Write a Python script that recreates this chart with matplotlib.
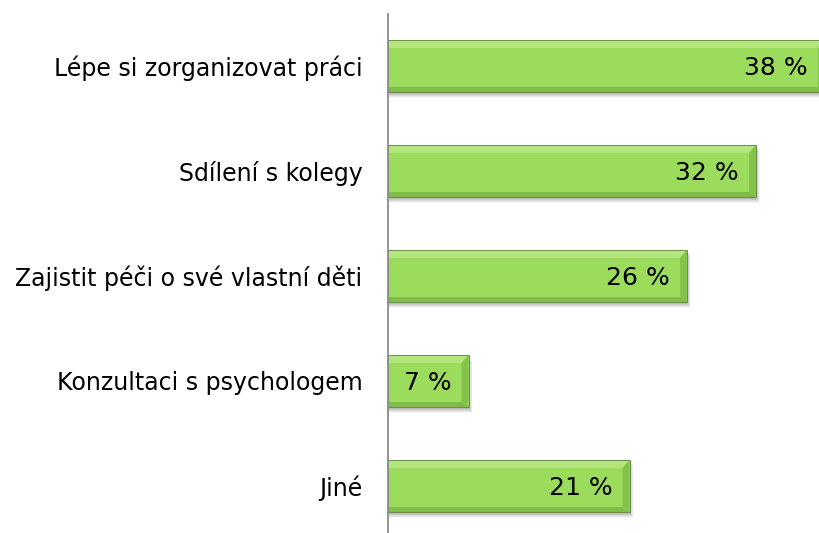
import matplotlib.pyplot as plt
from matplotlib.patches import Polygon, Rectangle

# Data
categories = ['Lépe si zorganizovat práci', 'Sdílení s kolegy',
              'Zajistit péči o své vlastní děti', 'Konzultaci s psychologem', 'Jiné']
values = [38, 32, 26, 7, 21]
value_labels = ['38 %', '32 %', '26 %', '7 %', '21 %']

W, H, DPI = 819, 533, 100
fig = plt.figure(figsize=(W / DPI, H / DPI), dpi=DPI)

# axes placed in pixels: left edge at the axis line, bars may run off the right edge
left_px, right_px, top_px, bottom_px = 388, 825, 14, 533
ax = fig.add_axes([left_px / W, 0, (right_px - left_px) / W, (bottom_px - top_px) / H])

xmax = 38.0
pitch_px = 105.0
first_center_px = 66.0
y_top = -(first_center_px - top_px) / pitch_px
y_bot = y_top + (bottom_px - top_px) / pitch_px
ax.set_xlim(0, xmax)
ax.set_ylim(y_bot, y_top)

px_x = xmax / (right_px - left_px)   # data units per pixel
px_y = 1.0 / pitch_px

bar_h = 52 / pitch_px
main = '#9cdc5c'
light = '#b3e67c'
dark_side = '#84c34b'
dark_bot = '#80bd48'
edge = '#6a8f48'

ypos = list(range(len(categories)))

for y, v in zip(ypos, values):
    t = y - bar_h / 2
    b = y + bar_h / 2
    bt = 8 * px_y   # top bevel
    bb = 5 * px_y   # bottom bevel
    br = 7 * px_x   # right bevel
    # soft shadow
    for k, a in [(6, 0.04), (5, 0.05), (4, 0.06), (3, 0.07), (2, 0.08)]:
        ax.add_patch(Rectangle((0, t + k * px_y), v + k * 0.6 * px_x, bar_h,
                               facecolor='#000000', alpha=a, linewidth=0, zorder=1))
    ax.add_patch(Rectangle((0, t), v, bar_h, facecolor=main, edgecolor='none', zorder=2))
    # bevels
    ax.add_patch(Polygon([(0, t), (v, t), (v - br, t + bt), (0, t + bt)],
                         closed=True, facecolor=light, edgecolor='none', zorder=3))
    ax.add_patch(Polygon([(v, t), (v, b), (v - br, b - bb), (v - br, t + bt)],
                         closed=True, facecolor=dark_side, edgecolor='none', zorder=3))
    ax.add_patch(Polygon([(0, b), (v, b), (v - br, b - bb), (0, b - bb)],
                         closed=True, facecolor=dark_bot, edgecolor='none', zorder=3))
    ax.add_patch(Rectangle((0, t), v, bar_h, facecolor='none', edgecolor=edge,
                           linewidth=0.7, zorder=4))

for y, v, lab in zip(ypos, values, value_labels):
    ax.text(v - 17 * px_x, y + 2 * px_y, lab, ha='right', va='center', fontsize=18,
            color='black', zorder=5)

ax.set_yticks(ypos)
ax.set_yticklabels(categories, fontsize=17)
ax.tick_params(axis='y', length=0, pad=18.5)
ax.set_xticks([])
for s in ['top', 'right', 'bottom']:
    ax.spines[s].set_visible(False)
ax.spines['left'].set_color('#8c8c8c')
ax.spines['left'].set_linewidth(1.3)
ax.spines['left'].set_zorder(6)

fig.savefig('out.png', dpi=DPI)
